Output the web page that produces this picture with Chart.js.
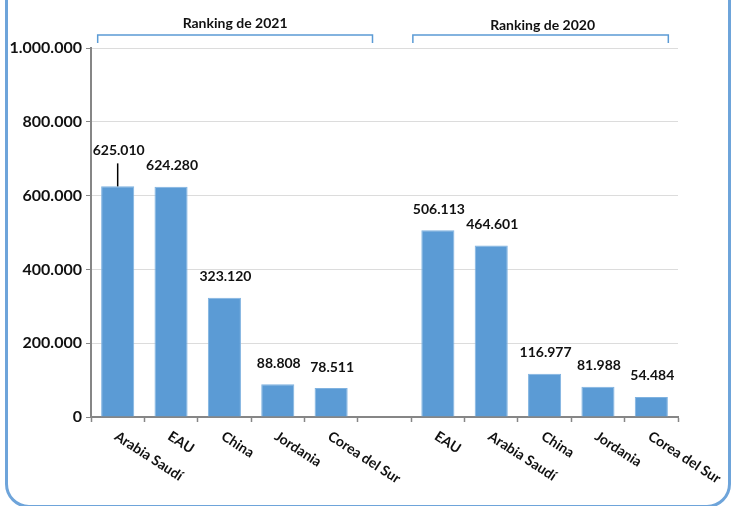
<!DOCTYPE html>
<html>
<head>
<meta charset="utf-8">
<script src="https://cdn.jsdelivr.net/npm/chart.js@4/dist/chart.umd.min.js"></script>
<style>
  body { margin: 0; background: #fff; }
  .wrap { position: relative; width: 734px; height: 506px; overflow: hidden; }
  .frame {
    position: absolute; left: 5px; top: -40px; width: 720px; height: 542px;
    border: 3px solid #6ea4da; border-radius: 24px; pointer-events: none;
  }
</style>
</head>
<body>
<div class="wrap">
  <canvas id="myChart" width="734" height="506"></canvas>
  <div class="frame"></div>
</div>
<script>
const paises = ['Arabia Saudí', 'EAU', 'China', 'Jordania', 'Corea del Sur', '',
                'EAU', 'Arabia Saudí', 'China', 'Jordania', 'Corea del Sur'];
const valores = [625010, 624280, 323120, 88808, 78511, null,
                 506113, 464601, 116977, 81988, 54484];
const grupos = ['Ranking de 2021', 'Ranking de 2020'];
const yTicks = [0, 200000, 400000, 600000, 800000, 1000000];

const fmt = v => String(v).replace(/\B(?=(\d{3})+(?!\d))/g, '.');
const FONT = 'Lato, "Open Sans", sans-serif';

const extras = {
  id: 'extras',
  afterDraw(chart) {
    const c = chart.ctx;
    const x = chart.scales.x;
    const meta = chart.getDatasetMeta(0);
    c.save();

    // etiquetas de valor
    c.fillStyle = '#111';
    c.font = 'bold 14px ' + FONT;
    c.textAlign = 'center';
    c.textBaseline = 'middle';
    meta.data.forEach((bar, i) => {
      if (valores[i] == null) return;
      if (i === 0) {
        // etiqueta desplazada con linea guia
        c.fillText(fmt(valores[i]), bar.x + 1, bar.y - 36);
        c.strokeStyle = '#000';
        c.lineWidth = 1.5;
        c.beginPath();
        c.moveTo(bar.x, bar.y - 23);
        c.lineTo(bar.x, bar.y);
        c.stroke();
      } else {
        c.fillText(fmt(valores[i]), bar.x + 1, bar.y - 21);
      }
    });

    // categorias giradas
    c.font = 'bold 14px ' + FONT;
    c.textAlign = 'left';
    c.textBaseline = 'top';
    const base = chart.chartArea.bottom;
    paises.forEach((p, i) => {
      if (!p) return;
      c.save();
      c.translate(x.getPixelForValue(i) + 2, base + 12);
      c.rotate(33 * Math.PI / 180);
      c.fillText(p, 0, 0);
      c.restore();
    });

    // llaves de grupo
    const spans = [
      [x.getPixelForValue(0) - 20, x.getPixelForValue(5) - 12],
      [x.getPixelForValue(6) - 25, x.getPixelForValue(10) + 17]
    ];
    c.strokeStyle = '#5b9bd5';
    c.lineWidth = 1.5;
    spans.forEach(([a, b], k) => {
      c.beginPath();
      c.moveTo(a, 43); c.lineTo(a, 35); c.lineTo(b, 35); c.lineTo(b, 43);
      c.stroke();
      c.fillStyle = '#111';
      c.font = 'bold 14px ' + FONT;
      c.textAlign = 'center';
      c.textBaseline = 'middle';
      c.fillText(grupos[k], (a + b) / 2 + k * 2, 23 + k * 2);
    });
    c.restore();
  }
};

new Chart(document.getElementById('myChart'), {
  type: 'bar',
  data: {
    labels: paises,
    datasets: [{
      data: valores,
      backgroundColor: '#5b9bd5',
      borderColor: '#7fb2e0',
      borderWidth: 1,
      barPercentage: 0.62,
      categoryPercentage: 1
    }]
  },
  options: {
    responsive: false,
    animation: false,
    layout: { padding: { left: 0, right: 56, top: 48, bottom: 84 } },
    plugins: { legend: { display: false }, tooltip: { enabled: false } },
    scales: {
      x: {
        afterFit: s => { s.height = 5; },
        ticks: { display: false },
        grid: { drawOnChartArea: false, tickLength: 5, tickColor: '#868686', tickWidth: 1.5 },
        border: { color: '#868686', width: 2 }
      },
      y: {
        min: 0, max: 1000000,
        afterFit: s => { s.width = 91; },
        afterBuildTicks: s => { s.ticks = yTicks.map(v => ({ value: v })); },
        ticks: {
          padding: 4,
          color: '#111',
          font: { family: FONT, size: 16, weight: 'bold' },
          callback: v => fmt(v)
        },
        grid: { color: '#dcdcdc', tickLength: 5, tickColor: '#868686' },
        border: { color: '#868686', width: 2 }
      }
    }
  },
  plugins: [extras]
});
</script>
</body>
</html>
